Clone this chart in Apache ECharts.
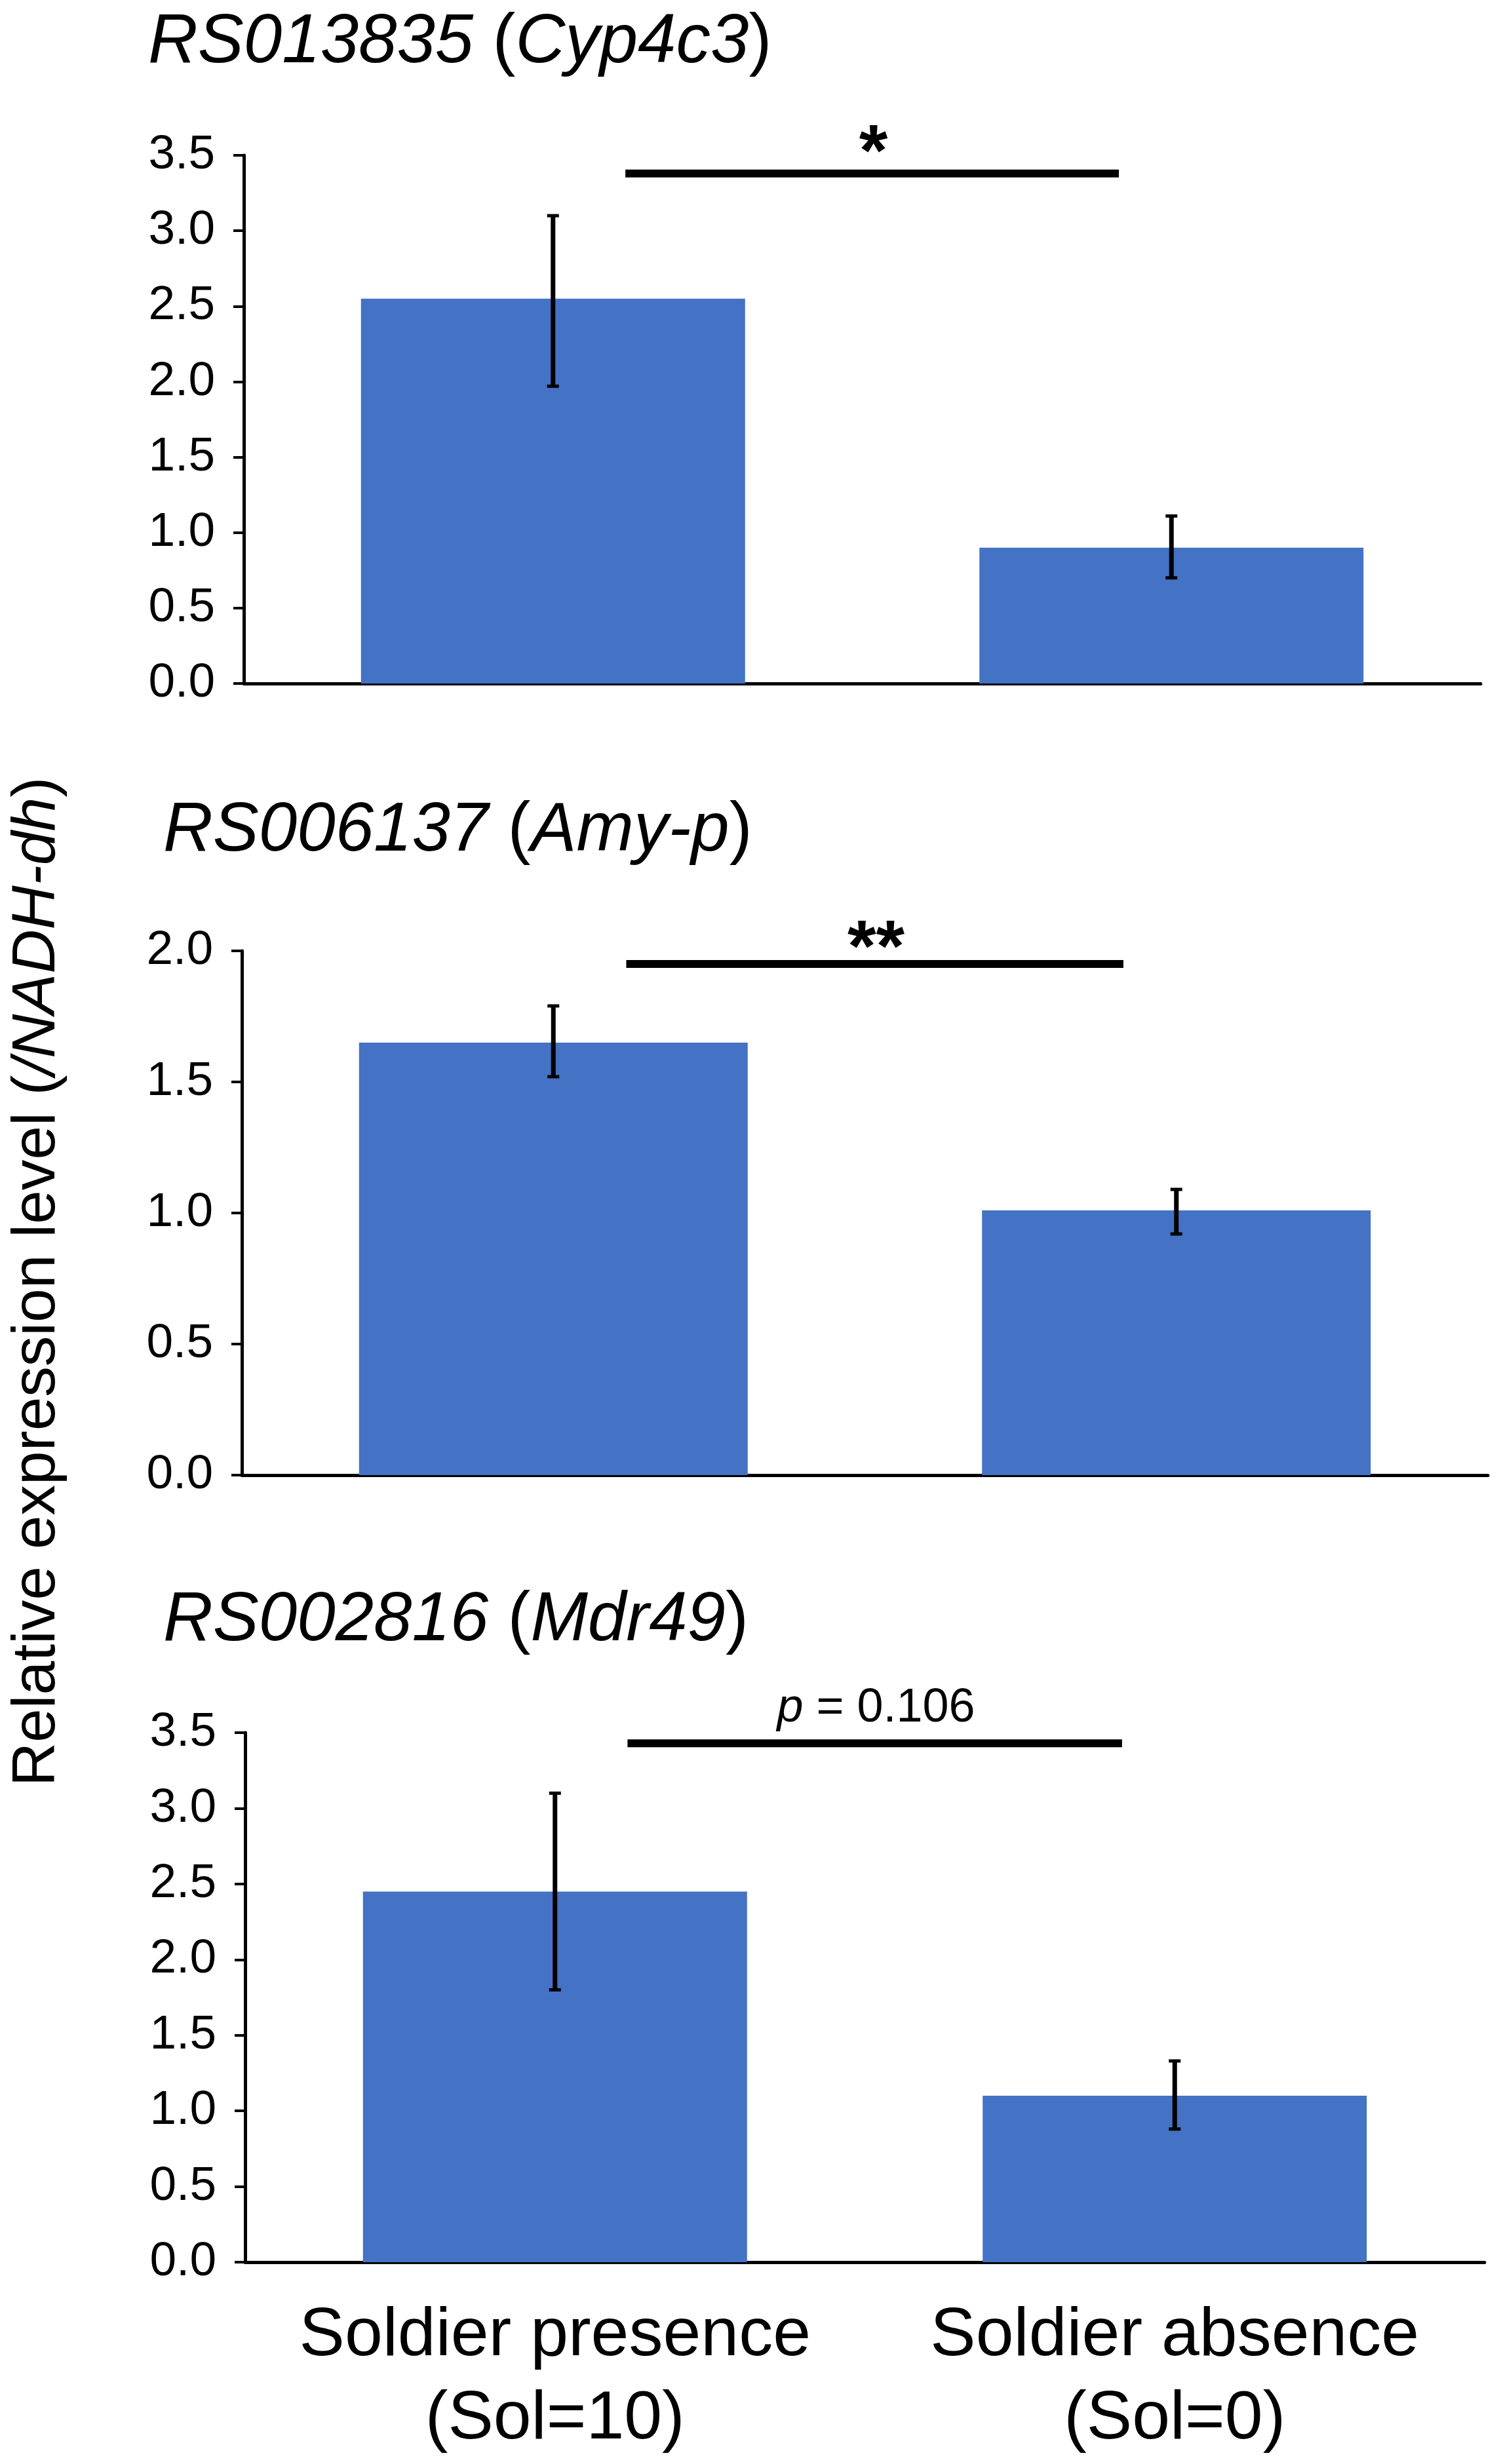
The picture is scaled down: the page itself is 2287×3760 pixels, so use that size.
<!DOCTYPE html>
<html>
<head>
<meta charset="utf-8">
<script src="https://cdn.jsdelivr.net/npm/echarts@6/dist/echarts.min.js"></script>
<style>
html,body{margin:0;padding:0;background:#fff;}
#chart{width:2287px;height:3760px;}
</style>
</head>
<body>
<div id="chart"></div>
<script>
// ---- data ----
const categories = ['Soldier presence\n(Sol=10)', 'Soldier absence\n(Sol=0)'];
const geneIds = ['RS013835', 'RS006137', 'RS002816'];
const geneNames = ['Cyp4c3', 'Amy-p', 'Mdr49'];
const cyp4c3Mean = [2.55, 0.90];
const cyp4c3Low = [1.97, 0.70];
const cyp4c3High = [3.10, 1.11];
const amyMean = [1.65, 1.01];
const amyLow = [1.52, 0.92];
const amyHigh = [1.79, 1.09];
const mdr49Mean = [2.45, 1.10];
const mdr49Low = [1.80, 0.88];
const mdr49High = [3.10, 1.33];
const yMax = [3.5, 2.0, 3.5];
const yTickStep = 0.5;
const sigLevel = [3.38, 1.95, 3.43];
const sigLabel = ['*', '**', 'p = 0.106'];
const yAxisTitle = ['Relative expression level (', '/NADH-dh', ')'];

const means = [cyp4c3Mean, amyMean, mdr49Mean];
const lows = [cyp4c3Low, amyLow, mdr49Low];
const highs = [cyp4c3High, amyHigh, mdr49High];

// ---- layout / style ----
const FONT = '"Liberation Sans", Arial, Helvetica, sans-serif';
const BLUE = '#4472C4';
const grids = [
  {left: 372, right: 28, top: 237, height: 806},
  {left: 369, right: 17, top: 1451, height: 800},
  {left: 374, right: 22, top: 2644, height: 808}
];
const barWidths = [586, 593, 586];
const titlePos = [[226, 66], [249, 1269], [249, 2474]];

const option = {
  backgroundColor: '#fff',
  animation: false,
  grid: grids,
  xAxis: grids.map((g, i) => ({
    type: 'category',
    gridIndex: i,
    data: categories,
    axisTick: {show: false},
    axisLine: {lineStyle: {color: '#000', width: 5}},
    axisLabel: {
      show: i === 2,
      color: '#000',
      fontFamily: FONT,
      fontSize: 104,
      lineHeight: 127,
      margin: 50,
      interval: 0
    },
    splitLine: {show: false}
  })),
  yAxis: grids.map((g, i) => ({
    type: 'value',
    gridIndex: i,
    min: 0,
    max: yMax[i],
    interval: yTickStep,
    axisLine: {show: true, lineStyle: {color: '#000', width: 5}},
    axisTick: {show: true, length: 16, lineStyle: {color: '#000', width: 4}},
    axisLabel: {
      color: '#000',
      fontFamily: FONT,
      fontSize: 73,
      margin: 44,
      formatter: v => v.toFixed(1)
    },
    splitLine: {show: false}
  })),
  series: [],
  graphic: []
};

for (let i = 0; i < 3; i++) {
  option.series.push({
    type: 'bar',
    xAxisIndex: i,
    yAxisIndex: i,
    data: means[i],
    barWidth: barWidths[i],
    itemStyle: {color: BLUE},
    z: 2
  });
  option.series.push({
    type: 'custom',
    xAxisIndex: i,
    yAxisIndex: i,
    z: 5,
    data: categories.map((c, k) => [k, lows[i][k], highs[i][k]]),
    renderItem: function (params, api) {
      const lo = api.coord([api.value(0), api.value(1)]);
      const hi = api.coord([api.value(0), api.value(2)]);
      const cap = 9;
      const st = {stroke: '#000', lineWidth: 7};
      const cs = {stroke: '#000', lineWidth: 5};
      return {
        type: 'group',
        children: [
          {type: 'line', shape: {x1: lo[0], y1: lo[1], x2: hi[0], y2: hi[1]}, style: st},
          {type: 'line', shape: {x1: hi[0] - cap, y1: hi[1], x2: hi[0] + cap, y2: hi[1]}, style: cs},
          {type: 'line', shape: {x1: lo[0] - cap, y1: lo[1], x2: lo[0] + cap, y2: lo[1]}, style: cs}
        ]
      };
    }
  });
  const label = sigLabel[i];
  const isStar = label.indexOf('*') === 0;
  option.series.push({
    type: 'custom',
    xAxisIndex: i,
    yAxisIndex: i,
    z: 6,
    clip: false,
    data: [[0, sigLevel[i]]],
    renderItem: function (params, api) {
      const y = api.value(1);
      const p0 = api.coord([0, y]);
      const p1 = api.coord([1, y]);
      const dx = p1[0] - p0[0];
      const x1 = p0[0] + 0.117 * dx;
      const x2 = p0[0] + 0.915 * dx;
      const xm = p0[0] + 0.518 * dx;
      let txt;
      if (isStar) {
        txt = {
          type: 'text', x: xm, y: p0[1] - (label.length > 1 ? 20 : 28),
          style: {
            text: label, fill: '#000', fontFamily: FONT, fontSize: 112, fontWeight: 'bold',
            align: 'center', verticalAlign: 'middle'
          }
        };
      } else {
        const rest = label.substring(1);
        txt = {
          type: 'text', x: xm, y: p0[1] - 53,
          style: {
            text: '{i|' + label.charAt(0) + '}' + rest, fill: '#000', fontFamily: FONT, fontSize: 72,
            align: 'center', verticalAlign: 'middle',
            rich: {i: {fontStyle: 'italic', fontFamily: FONT, fontSize: 72, fill: '#000'}}
          }
        };
      }
      return {
        type: 'group',
        children: [
          {type: 'line', shape: {x1: x1, y1: p0[1], x2: x2, y2: p0[1]}, style: {stroke: '#000', lineWidth: 12}},
          txt
        ]
      };
    }
  });
  option.graphic.push({
    type: 'text',
    x: titlePos[i][0],
    y: titlePos[i][1],
    style: {
      text: '{i|' + geneIds[i] + '} ({i|' + geneNames[i] + '})',
      fill: '#000',
      fontFamily: FONT,
      fontSize: 105,
      align: 'left',
      verticalAlign: 'middle',
      rich: {i: {fontStyle: 'italic', fontFamily: FONT, fontSize: 105, fill: '#000'}}
    }
  });
}

option.graphic.push({
  type: 'text',
  x: 57,
  y: 1956,
  rotation: Math.PI / 2,
  style: {
    text: yAxisTitle[0] + '{i|' + yAxisTitle[1] + '}' + yAxisTitle[2],
    fill: '#000',
    fontFamily: FONT,
    fontSize: 93,
    align: 'center',
    verticalAlign: 'middle',
    rich: {i: {fontStyle: 'italic', fontFamily: FONT, fontSize: 93, fill: '#000'}}
  }
});

const chart = echarts.init(document.getElementById('chart'), null, {renderer: 'canvas'});
chart.setOption(option);
</script>
</body>
</html>
